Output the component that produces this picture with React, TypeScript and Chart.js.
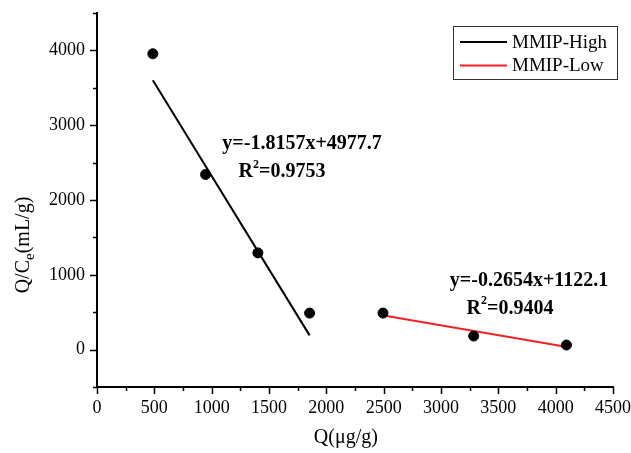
import React, { useEffect, useRef } from 'react';
import { Chart, registerables } from 'chart.js';

Chart.register(...registerables);

const FONT = '"Liberation Serif", "Times New Roman", serif';

// Data
const highQ = [487, 947, 1403, 1854];
const highQC = [3955, 2341, 1293, 488];
const lowQ = [2494, 3285, 4094];
const lowQC = [488, 181, 61];

const highFitX = [487, 1854];
const highFitY = [3600, 190];
const lowFitX = [2500, 4100];
const lowFitY = [457, 35];

const xTickValues = [0, 500, 1000, 1500, 2000, 2500, 3000, 3500, 4000, 4500];
const xMinorValues = [250, 750, 1250, 1750, 2250, 2750, 3250, 3750, 4250];
const yTickValues = [0, 1000, 2000, 3000, 4000];
const yMinorValues = [-500, 500, 1500, 2500, 3500, 4500];

const seriesNames = ['MMIP-High', 'MMIP-Low'];
const seriesColors = ['#000000', '#ee2222'];

const equations = [
  { eq: 'y=-1.8157x+4977.7', r2: '=0.9753', eqAt: [1093, 2751], r2At: [1235, 2377] },
  { eq: 'y=-0.2654x+1122.1', r2: '=0.9404', eqAt: [3077, 924], r2At: [3223, 551] },
];

const overlayPlugin = {
  id: 'overlay',
  afterDraw(chart: any) {
    const { ctx, chartArea } = chart;
    const xs = chart.scales.x;
    const ys = chart.scales.y;
    ctx.save();
    // ticks
    ctx.strokeStyle = '#000';
    ctx.lineWidth = 1.5;
    const drawX = (v: number, len: number) => {
      const px = Math.round(xs.getPixelForValue(v)) + 0.5;
      ctx.beginPath();
      ctx.moveTo(px, chartArea.bottom);
      ctx.lineTo(px, chartArea.bottom + len);
      ctx.stroke();
    };
    const drawY = (v: number, len: number) => {
      const py = Math.round(ys.getPixelForValue(v)) + 0.5;
      ctx.beginPath();
      ctx.moveTo(chartArea.left, py);
      ctx.lineTo(chartArea.left - len, py);
      ctx.stroke();
    };
    xTickValues.forEach((v) => drawX(v, 7));
    xMinorValues.forEach((v) => drawX(v, 4));
    yTickValues.forEach((v) => drawY(v, 7));
    yMinorValues.forEach((v) => drawY(v, 4));

    // equations
    ctx.fillStyle = '#000';
    ctx.textBaseline = 'middle';
    ctx.textAlign = 'left';
    equations.forEach((e) => {
      ctx.font = `bold 20px ${FONT}`;
      ctx.fillText(e.eq, xs.getPixelForValue(e.eqAt[0]), ys.getPixelForValue(e.eqAt[1]));
      let px = xs.getPixelForValue(e.r2At[0]);
      const py = ys.getPixelForValue(e.r2At[1]);
      ctx.fillText('R', px, py);
      px += ctx.measureText('R').width;
      ctx.font = `bold 12px ${FONT}`;
      ctx.fillText('2', px, py - 7);
      px += ctx.measureText('2').width;
      ctx.font = `bold 20px ${FONT}`;
      ctx.fillText(e.r2, px, py);
    });

    // legend
    const lx = chartArea.right - 160;
    const ly = chartArea.top + 13;
    const lw = 164;
    const lh = 53;
    ctx.strokeStyle = '#333';
    ctx.lineWidth = 1;
    ctx.strokeRect(lx + 0.5, ly + 0.5, lw, lh);
    ctx.font = `19px ${FONT}`;
    seriesNames.forEach((name, i) => {
      const yy = ly + 16 + i * 23.5;
      ctx.strokeStyle = seriesColors[i];
      ctx.lineWidth = 2;
      ctx.beginPath();
      ctx.moveTo(lx + 7, yy);
      ctx.lineTo(lx + 54, yy);
      ctx.stroke();
      ctx.fillStyle = '#000';
      ctx.fillText(name, lx + 59, yy + 1);
    });

    // x title
    ctx.textAlign = 'center';
    ctx.font = `20px ${FONT}`;
    ctx.fillText('Q(\u03bcg/g)', xs.getPixelForValue(2170), 438);

    // y title
    ctx.translate(24, 245);
    ctx.rotate(-Math.PI / 2);
    ctx.textAlign = 'left';
    const p1 = 'Q/C';
    const p2 = 'e';
    const p3 = '(mL/g)';
    ctx.font = `20px ${FONT}`;
    const w1 = ctx.measureText(p1).width;
    const w3 = ctx.measureText(p3).width;
    ctx.font = `15px ${FONT}`;
    const w2 = ctx.measureText(p2).width;
    let sx = -(w1 + w2 + w3) / 2;
    ctx.font = `20px ${FONT}`;
    ctx.fillText(p1, sx, 0);
    sx += w1;
    ctx.font = `15px ${FONT}`;
    ctx.fillText(p2, sx, 6);
    sx += w2;
    ctx.font = `20px ${FONT}`;
    ctx.fillText(p3, sx, 0);
    ctx.restore();
  },
};

export default function App() {
  const ref = useRef<HTMLCanvasElement>(null);
  useEffect(() => {
    const chart = new Chart(ref.current as HTMLCanvasElement, {
      type: 'scatter',
      data: {
        datasets: [
          {
            label: 'MMIP-High points',
            data: highQ.map((x, i) => ({ x, y: highQC[i] })),
            backgroundColor: '#000',
            borderColor: '#000',
            pointRadius: 5,
            showLine: false,
          },
          {
            label: 'MMIP-Low points',
            data: lowQ.map((x, i) => ({ x, y: lowQC[i] })),
            backgroundColor: '#000',
            borderColor: '#000',
            pointRadius: 5,
            showLine: false,
          },
          {
            label: seriesNames[0],
            data: highFitX.map((x, i) => ({ x, y: highFitY[i] })),
            borderColor: seriesColors[0],
            borderWidth: 2,
            pointRadius: 0,
            showLine: true,
          },
          {
            label: seriesNames[1],
            data: lowFitX.map((x, i) => ({ x, y: lowFitY[i] })),
            borderColor: seriesColors[1],
            borderWidth: 2,
            pointRadius: 0,
            showLine: true,
          },
        ],
      },
      options: {
        responsive: false,
        animation: false,
        layout: { padding: { top: 13, right: 18, left: 0, bottom: 0 } },
        plugins: { legend: { display: false }, tooltip: { enabled: false } },
        scales: {
          x: {
            type: 'linear',
            min: 0,
            max: 4500,
            afterBuildTicks: (s: any) => {
              s.ticks = xTickValues.map((v) => ({ value: v }));
            },
            afterFit: (s: any) => {
              s.height = 66;
              s.paddingLeft = 0;
              s.paddingRight = 0;
              s.paddingTop = 0;
              s.paddingBottom = 0;
            },
            ticks: {
              color: '#000',
              font: { family: FONT, size: 18 },
              padding: 10,
              maxRotation: 0,
              autoSkip: false,
              callback: (v: any) => String(v),
            },
            grid: { display: false, drawTicks: false, tickLength: 0 },
            border: { display: true, color: '#000', width: 2 },
          },
          y: {
            type: 'linear',
            min: -500,
            max: 4500,
            afterBuildTicks: (s: any) => {
              s.ticks = yTickValues.map((v) => ({ value: v }));
            },
            afterFit: (s: any) => {
              s.width = 97;
              s.paddingLeft = 0;
              s.paddingRight = 0;
              s.paddingTop = 0;
              s.paddingBottom = 0;
            },
            ticks: {
              color: '#000',
              font: { family: FONT, size: 18 },
              padding: 12,
              autoSkip: false,
              callback: (v: any) => String(v),
            },
            grid: { display: false, drawTicks: false, tickLength: 0 },
            border: { display: true, color: '#000', width: 2 },
          },
        },
      },
      plugins: [overlayPlugin],
    });
    return () => chart.destroy();
  }, []);
  return (
    <div style={{ position: 'fixed', left: 0, top: 0, width: 631, height: 453, background: '#fff' }}>
      <canvas ref={ref} width={631} height={453} style={{ display: 'block' }} />
    </div>
  );
}
